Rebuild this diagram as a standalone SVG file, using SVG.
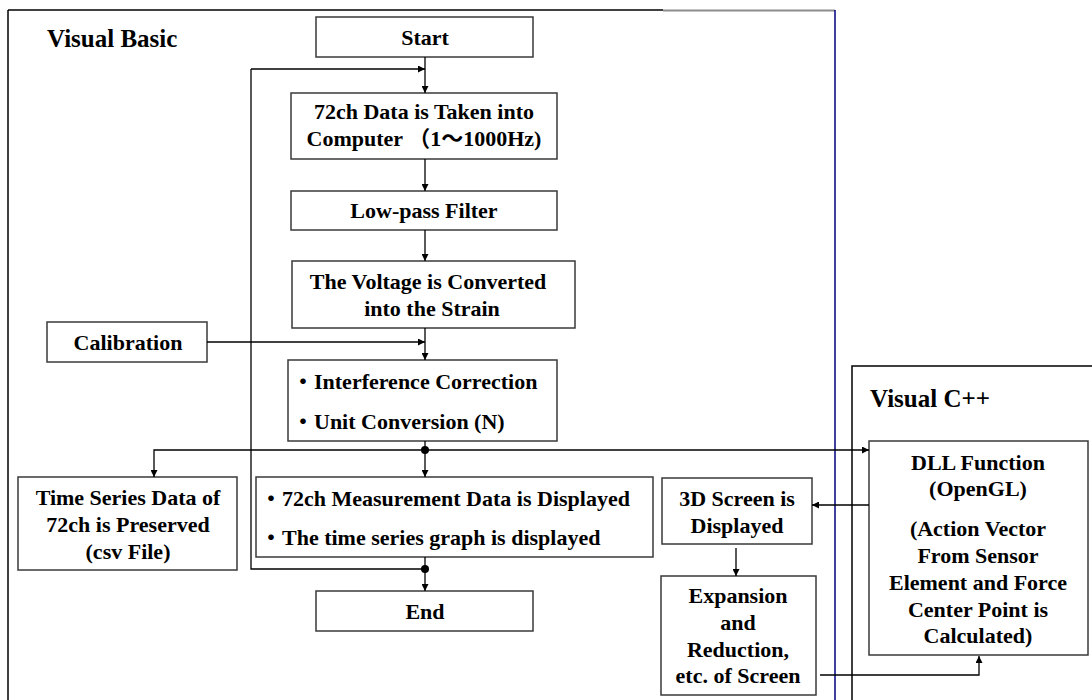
<svg xmlns="http://www.w3.org/2000/svg" width="1092" height="700" viewBox="0 0 1092 700">
  <style>
    .box { fill: #ffffff; stroke: #3a3a3a; stroke-width: 1.5; }
    .lbl { font-family: "Liberation Serif", "Noto Sans CJK JP", serif; font-weight: bold; font-size: 22px; fill: #000; text-anchor: middle; }
    .lft { text-anchor: start; }
    .title { font-family: "Liberation Serif", serif; font-weight: bold; font-size: 25px; fill: #000; }
    .wire { fill: none; stroke: #000; stroke-width: 1.3; }
  </style>
  <defs>
    <marker id="arrow" viewBox="0 0 10 10" refX="10" refY="5" markerWidth="7" markerHeight="7" markerUnits="userSpaceOnUse" orient="auto">
      <path d="M0,0 L10,5 L0,10 Z" fill="#000"/>
    </marker>
  </defs>
  <rect width="1092" height="700" fill="#ffffff"/>

  <!-- Visual Basic area -->
  <g id="vb-frame">
    <line x1="8" y1="10" x2="8" y2="700" stroke="#000" stroke-width="1.5"/>
    <line x1="8" y1="10" x2="663" y2="10" stroke="#000" stroke-width="1.5"/>
    <line x1="663" y1="10.5" x2="835" y2="10.5" stroke="#8c8c8c" stroke-width="2"/>
    <line x1="835" y1="10" x2="835" y2="700" stroke="#000080" stroke-width="1.5"/>
    <text class="title" x="47" y="47">Visual Basic</text>
  </g>

  <!-- Visual C++ area -->
  <g id="vc-frame">
    <polyline points="852,700 852,366 1092,366" fill="none" stroke="#000" stroke-width="1.5"/>
    <text class="title" x="870" y="407">Visual C++</text>
  </g>

  <g id="start">
    <rect class="box" x="316" y="17" width="217" height="40"/>
    <text class="lbl" x="425" y="45">Start</text>
  </g>

  <g id="acquire">
    <rect class="box" x="291" y="93" width="266" height="66"/>
    <text class="lbl" x="424" y="119">72ch Data is Taken into</text>
    <text class="lbl" x="424" y="146">Computer （1～1000Hz)</text>
  </g>

  <g id="lowpass">
    <rect class="box" x="291" y="191" width="266" height="39"/>
    <text class="lbl" x="424" y="218">Low-pass Filter</text>
  </g>

  <g id="voltage">
    <rect class="box" x="292" y="261" width="283" height="67"/>
    <text class="lbl" x="428" y="289">The Voltage is Converted</text>
    <text class="lbl" x="432" y="316">into the Strain</text>
  </g>

  <g id="calibration">
    <rect class="box" x="47" y="322" width="160" height="40"/>
    <text class="lbl" x="128" y="350">Calibration</text>
  </g>

  <g id="correction">
    <rect class="box" x="288" y="360" width="269" height="81"/>
    <text class="lbl lft" x="292" y="389">・Interference Correction</text>
    <text class="lbl lft" x="292" y="429">・Unit Conversion (N)</text>
  </g>

  <g id="timeseries">
    <rect class="box" x="18" y="477" width="219" height="93"/>
    <text class="lbl" x="128" y="505">Time Series Data of</text>
    <text class="lbl" x="128" y="532">72ch is Preserved</text>
    <text class="lbl" x="128" y="559">(csv File)</text>
  </g>

  <g id="display">
    <rect class="box" x="256" y="477" width="397" height="80"/>
    <text class="lbl lft" x="260" y="506">・72ch Measurement Data is Displayed</text>
    <text class="lbl lft" x="260" y="545">・The time series graph is displayed</text>
  </g>

  <g id="end">
    <rect class="box" x="316" y="591" width="217" height="40"/>
    <text class="lbl" x="425" y="619">End</text>
  </g>

  <g id="screen3d">
    <rect class="box" x="662" y="478" width="150" height="66"/>
    <text class="lbl" x="737" y="506">3D Screen is</text>
    <text class="lbl" x="737" y="533">Displayed</text>
  </g>

  <g id="zoom">
    <rect class="box" x="661" y="576" width="155" height="119"/>
    <text class="lbl" x="738" y="603">Expansion</text>
    <text class="lbl" x="738" y="630">and</text>
    <text class="lbl" x="738" y="657">Reduction,</text>
    <text class="lbl" x="738" y="683">etc. of Screen</text>
  </g>

  <g id="dll">
    <rect class="box" x="869" y="441" width="219" height="214"/>
    <text class="lbl" x="978" y="470">DLL Function</text>
    <text class="lbl" x="978" y="496">(OpenGL)</text>
    <text class="lbl" x="978" y="536">(Action Vector</text>
    <text class="lbl" x="978" y="563">From Sensor</text>
    <text class="lbl" x="978" y="590">Element and Force</text>
    <text class="lbl" x="978" y="617">Center Point is</text>
    <text class="lbl" x="978" y="643">Calculated)</text>
  </g>

  <g id="connectors">
    <line class="wire" x1="425" y1="57" x2="425" y2="93" marker-end="url(#arrow)"/>
    <line class="wire" x1="251" y1="69" x2="425" y2="69" marker-end="url(#arrow)"/>
    <line class="wire" x1="425" y1="159" x2="425" y2="191" marker-end="url(#arrow)"/>
    <line class="wire" x1="425" y1="230" x2="425" y2="261" marker-end="url(#arrow)"/>
    <line class="wire" x1="425" y1="328" x2="425" y2="360" marker-end="url(#arrow)"/>
    <line class="wire" x1="207" y1="342" x2="425" y2="342" marker-end="url(#arrow)"/>
    <line class="wire" x1="425" y1="441" x2="425" y2="450"/>
    <line class="wire" x1="425" y1="450" x2="869" y2="450" marker-end="url(#arrow)"/>
    <polyline class="wire" points="425,450 154,450 154,477" marker-end="url(#arrow)"/>
    <line class="wire" x1="425" y1="450" x2="425" y2="477" marker-end="url(#arrow)"/>
    <circle cx="425" cy="450" r="4" fill="#000"/>
    <line class="wire" x1="425" y1="557" x2="425" y2="591" marker-end="url(#arrow)"/>
    <polyline class="wire" points="425,569 251,569 251,69"/>
    <circle cx="425" cy="569" r="4" fill="#000"/>
    <line class="wire" x1="869" y1="505" x2="812" y2="505" marker-end="url(#arrow)"/>
    <line class="wire" x1="736" y1="548" x2="736" y2="576" marker-end="url(#arrow)"/>
    <polyline class="wire" points="820,675 979,675 979,656" marker-end="url(#arrow)"/>
  </g>
</svg>
